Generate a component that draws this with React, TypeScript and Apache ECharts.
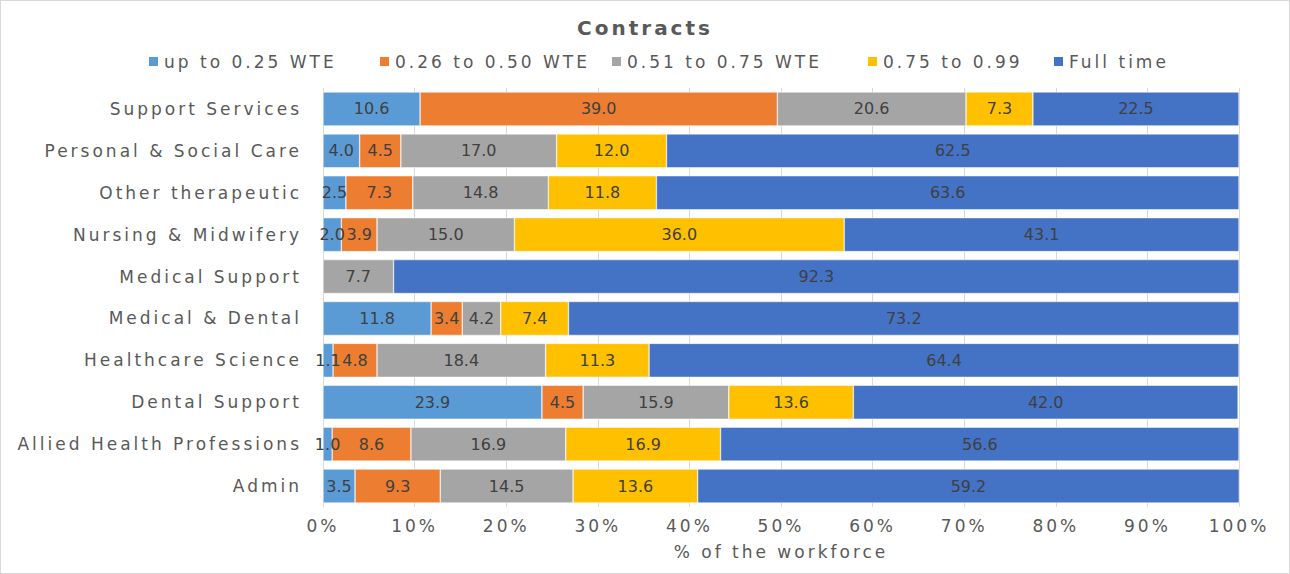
import React, { useEffect, useRef } from "react";
import * as echarts from "echarts";

const categories = [
  "Admin",
  "Allied Health Professions",
  "Dental Support",
  "Healthcare Science",
  "Medical & Dental",
  "Medical Support",
  "Nursing & Midwifery",
  "Other therapeutic",
  "Personal & Social Care",
  "Support Services",
];

const seriesNames = ["up to 0.25 WTE", "0.26 to 0.50 WTE", "0.51 to 0.75 WTE", "0.75 to 0.99", "Full time"];
const upTo025 = [3.5, 1.0, 23.9, 1.1, 11.8, null, 2.0, 2.5, 4.0, 10.6];
const from026to050 = [9.3, 8.6, 4.5, 4.8, 3.4, null, 3.9, 7.3, 4.5, 39.0];
const from051to075 = [14.5, 16.9, 15.9, 18.4, 4.2, 7.7, 15.0, 14.8, 17.0, 20.6];
const from075to099 = [13.6, 16.9, 13.6, 11.3, 7.4, null, 36.0, 11.8, 12.0, 7.3];
const fullTime = [59.2, 56.6, 42.0, 64.4, 73.2, 92.3, 43.1, 63.6, 62.5, 22.5];
const colors = ["#5B9BD5", "#ED7D31", "#A5A5A5", "#FFC000", "#4472C4"];
const legendLefts = [141, 372, 604, 860, 1046];

const FONT = "DejaVu Sans";

export default function App() {
  const ref = useRef<HTMLDivElement>(null);
  useEffect(() => {
    if (!ref.current) return;
    const chart = echarts.init(ref.current, null, { renderer: "svg" });
    const all = [upTo025, from026to050, from051to075, from075to099, fullTime];
    chart.setOption({
      animation: false,
      title: {
        text: "Contracts",
        left: "center",
        top: 12,
        textStyle: { fontFamily: FONT, fontSize: 20, fontWeight: "bold", color: "#595959" },
      },
      legend: seriesNames.map((name, i) => ({
        top: 47,
        left: legendLefts[i],
        itemWidth: 11,
        itemHeight: 11,
        icon: "rect",
        textStyle: { fontFamily: FONT, fontSize: 17, color: "#595959" },
        data: [name],
      })),
      grid: { left: 322, right: 50, top: 87, bottom: 66, containLabel: false },
      xAxis: {
        type: "value",
        min: 0,
        max: 100,
        interval: 10,
        name: "% of the workforce",
        nameLocation: "middle",
        nameGap: 36,
        nameTextStyle: { fontFamily: FONT, fontSize: 17, color: "#595959" },
        axisLabel: {
          fontFamily: FONT,
          fontSize: 17,
          color: "#595959",
          margin: 10,
          formatter: (v: number) => v + "%",
        },
        axisLine: { show: false },
        axisTick: { show: false },
        splitLine: { show: true, lineStyle: { color: "#D9D9D9", width: 1 } },
      },
      yAxis: {
        type: "category",
        data: categories,
        axisLabel: { fontFamily: FONT, fontSize: 17, color: "#595959", margin: 21 },
        axisLine: { show: true, lineStyle: { color: "#D9D9D9" } },
        axisTick: { show: false },
      },
      series: seriesNames.map((name, i) => ({
        name,
        type: "bar",
        stack: "total",
        barCategoryGap: "19%",
        data: all[i],
        itemStyle: { color: colors[i], borderColor: "#ffffff", borderWidth: 0.5 },
        label: {
          show: true,
          position: "inside",
          fontFamily: FONT,
          fontSize: 16,
          color: "#404040",
          formatter: (p: any) => (p.value == null ? "" : Number(p.value).toFixed(1)),
        },
      })),
    });
    return () => chart.dispose();
  }, []);
  return (
    <>
      <style>{`.contracts-chart svg text:not([style*="16px"]) { letter-spacing: 3px; }`}</style>
      <div
        ref={ref}
        className="contracts-chart"
        style={{
          position: "fixed",
          left: 0,
          top: 0,
          width: 1290,
          height: 574,
          boxSizing: "border-box",
          border: "1px solid #D9D9D9",
          background: "#fff",
        }}
      />
    </>
  );
}
